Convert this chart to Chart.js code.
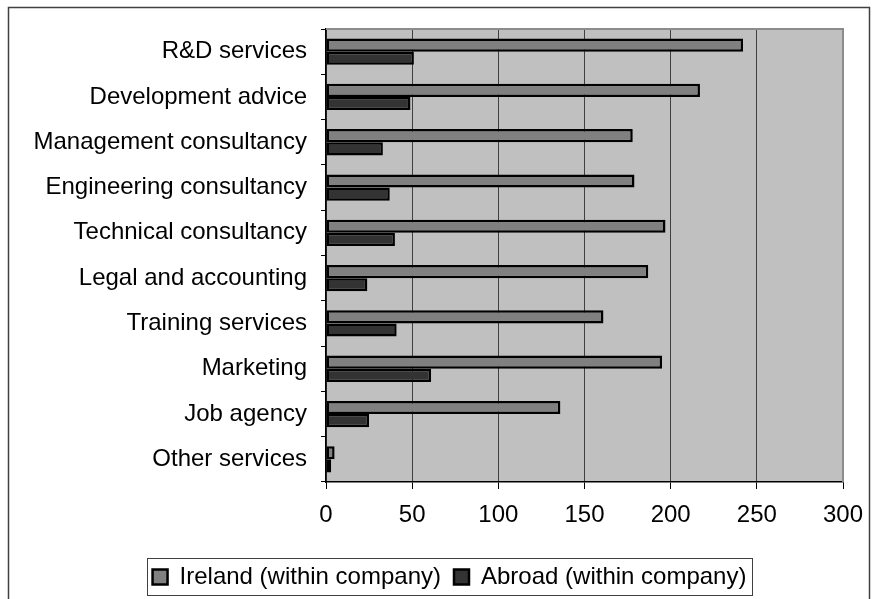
<!DOCTYPE html>
<html>
<head>
<meta charset="utf-8">
<title>Services purchased within company</title>
<script src="https://cdn.jsdelivr.net/npm/chart.js@4/dist/chart.umd.min.js"></script>
<style>
  html, body { margin: 0; padding: 0; background: #fff; }
  #wrap { width: 877px; height: 599px; }
</style>
</head>
<body>
<div id="wrap"><canvas id="services-chart" width="877" height="599"></canvas></div>
<script>
/* Horizontal grouped bars: services bought within the company, Ireland vs abroad */

var categories = [
  "R&D services",
  "Development advice",
  "Management consultancy",
  "Engineering consultancy",
  "Technical consultancy",
  "Legal and accounting",
  "Training services",
  "Marketing",
  "Job agency",
  "Other services"
];
var irelandValues = [242, 217, 178, 179, 197, 187, 161, 195, 136, 5];
var abroadValues = [51, 49, 33, 37, 40, 24, 41, 61, 25, 3];
var xTicks = [0, 50, 100, 150, 200, 250, 300];

(function () {
  "use strict";

  var FONT = { family: "'Liberation Sans', Arial, sans-serif", size: 24 };
  var AXIS_LEFT = 326;     // where the value axis starts
  var LEGEND_SHIFT = 28;   // legend sits a little right of the canvas centre

  // ── Page frame, plot background and edge lines ───────────────────────
  var framePlugin = {
    id: "frame",
    afterLayout: function (chart) {
      var lg = chart.legend;
      if (!lg) return;
      lg.left += LEGEND_SHIFT;
      lg.right += LEGEND_SHIFT;
    },
    beforeDraw: function (chart) {
      var ctx = chart.ctx;
      var a = chart.chartArea;
      ctx.save();
      ctx.fillStyle = "#fff";
      ctx.fillRect(0, 0, chart.width, chart.height);
      ctx.strokeStyle = "#404040";
      ctx.lineWidth = 1.5;
      ctx.strokeRect(8.5, 7.5, 861, 700);
      ctx.fillStyle = "#c0c0c0";
      ctx.fillRect(a.left, a.top, a.right - a.left, a.bottom - a.top);
      ctx.restore();
    },
    beforeDatasetsDraw: function (chart) {
      var ctx = chart.ctx;
      var a = chart.chartArea;
      ctx.save();
      ctx.strokeStyle = "#8c8c8c";
      ctx.lineWidth = 2;
      ctx.beginPath();
      ctx.moveTo(a.left, a.top);
      ctx.lineTo(a.right, a.top);
      ctx.lineTo(a.right, a.bottom);
      ctx.stroke();
      ctx.restore();
    },
    afterDraw: function (chart) {
      // box round the legend items
      var boxes = chart.legend && chart.legend.legendHitBoxes;
      if (!boxes || !boxes.length) return;
      var first = boxes[0];
      var last = boxes[boxes.length - 1];
      var left = first.left - 6;
      var right = last.left + last.width + 5;
      var top = first.top - 7;
      var ctx = chart.ctx;
      ctx.save();
      ctx.strokeStyle = "#404040";
      ctx.lineWidth = 1;
      ctx.strokeRect(Math.round(left) + 0.5, Math.round(top) + 0.5, Math.round(right - left), 37);
      ctx.restore();
    }
  };

  // ── Chart ────────────────────────────────────────────────────────────
  function initChart() {
    var canvas = document.getElementById("services-chart");
    if (!canvas || typeof Chart === "undefined") return;

    new Chart(canvas.getContext("2d"), {
      type: "bar",
      data: {
        labels: categories,
        datasets: [{
          label: "Ireland (within company)",
          data: irelandValues,
          backgroundColor: "#808080",
          borderColor: "#000",
          borderWidth: 2.5,
          borderSkipped: false
        }, {
          label: "Abroad (within company)",
          data: abroadValues,
          backgroundColor: "#333333",
          borderColor: "#000",
          borderWidth: 2.5,
          borderSkipped: false
        }]
      },
      options: {
        indexAxis: "y",
        responsive: false,
        animation: false,
        devicePixelRatio: 1,
        categoryPercentage: 0.58,
        barPercentage: 1,
        layout: { padding: { left: 0, right: 34, top: 29, bottom: 0 } },
        plugins: {
          tooltip: { enabled: false },
          legend: {
            position: "bottom",
            labels: {
              font: FONT,
              color: "#000",
              boxWidth: 15,
              boxHeight: 15,
              padding: 13
            }
          }
        },
        scales: {
          x: {
            min: xTicks[0],
            max: xTicks[xTicks.length - 1],
            afterBuildTicks: function (scale) {
              scale.ticks = xTicks.map(function (v) { return { value: v }; });
            },
            ticks: { font: FONT, color: "#000", padding: 12 },
            grid: {
              color: function (c) {
                if (c.tick && c.tick.value === xTicks[xTicks.length - 1]) return "#8c8c8c";
                return "#404040";
              },
              lineWidth: 1,
              tickLength: 7,
              tickColor: "#000"
            },
            border: { display: true, color: "#000", width: 1.5 },
            afterFit: function (scale) { scale.height = 70; }
          },
          y: {
            ticks: { font: FONT, color: "#000", padding: 14 },
            grid: {
              drawOnChartArea: false,
              offset: true,
              tickLength: 5,
              tickColor: "#000"
            },
            border: { display: true, color: "#000", width: 1.5 },
            afterFit: function (scale) { scale.width = AXIS_LEFT; }
          }
        }
      },
      plugins: [framePlugin]
    });
  }

  // ── Boot ─────────────────────────────────────────────────────────────
  document.addEventListener("DOMContentLoaded", initChart);
})();
</script>
</body>
</html>
